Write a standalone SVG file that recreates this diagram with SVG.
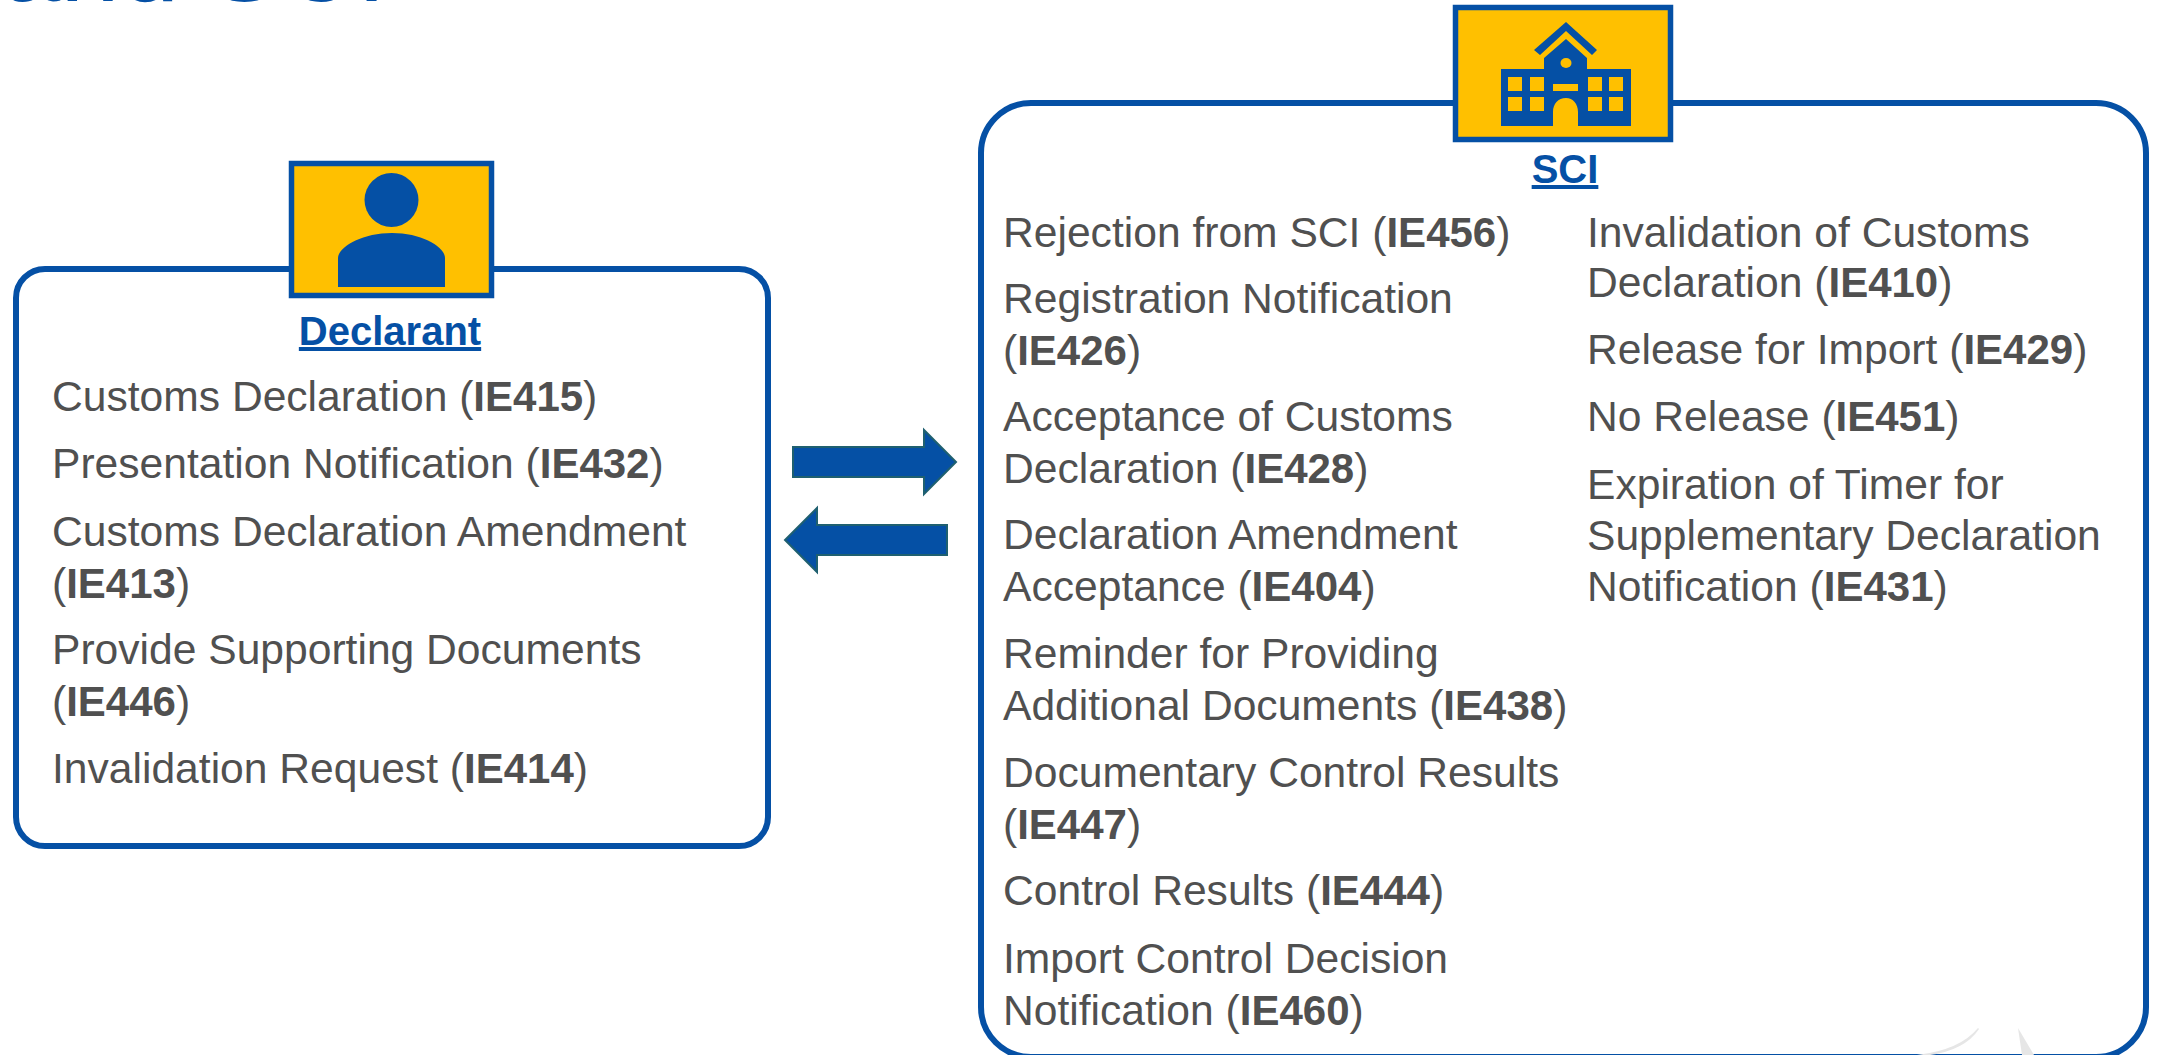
<svg xmlns="http://www.w3.org/2000/svg" width="2157" height="1055" viewBox="0 0 2157 1055">
<style>
.box{fill:#fff;stroke:#0550a5;stroke-width:6}
.icon{fill:#ffc000;stroke:#0550a5;stroke-width:5.500}
.ink{fill:#0550a5}
.arrow{fill:#0550a5;stroke:#1f6070;stroke-width:2}
text{font-family:"Liberation Sans",Arial,sans-serif}
.t{font-size:42.600px;fill:#505050}
.t tspan.b{font-weight:bold;font-size:42px}
.h{font-size:40px;font-weight:bold;fill:#0550a5;text-anchor:middle;text-decoration:underline}
.title{font-size:106.670px;fill:#0550a5}
.wm{fill:#e6e6e6}
</style>
<rect width="2157" height="1055" fill="#fff"/>
<text class="title" x="1" y="1">and SCI</text>
<g id="declarant">
<rect class="box" x="16" y="269" width="752" height="577" rx="29"/>
<rect class="icon" x="291.500" y="163.500" width="200" height="132"/>
<circle class="ink" cx="391.500" cy="200" r="27"/>
<path class="ink" d="M338 287V258C338 247 362 233 392 233C422 233 445 247 445 258V287Z"/>
<text class="h" x="390" y="345">Declarant</text>
<text class="t" x="52" y="411">Customs Declaration (<tspan class="b">IE415</tspan>)</text>
<text class="t" x="52" y="478">Presentation Notification (<tspan class="b">IE432</tspan>)</text>
<text class="t" x="52" y="546">Customs Declaration Amendment</text>
<text class="t" x="52" y="598">(<tspan class="b">IE413</tspan>)</text>
<text class="t" x="52" y="664">Provide Supporting Documents</text>
<text class="t" x="52" y="716">(<tspan class="b">IE446</tspan>)</text>
<text class="t" x="52" y="783">Invalidation Request (<tspan class="b">IE414</tspan>)</text>
</g>
<g id="sci">
<rect class="box" x="981" y="103" width="1165" height="954" rx="50"/>
<path class="wm" d="M1917 1055Q1960 1050 1978 1028L1979 1029Q1965 1050 1930 1055Z"/>
<path class="wm" d="M2018 1028L2034 1055L2022 1055Z"/>
<rect class="icon" x="1455.500" y="7.500" width="215" height="132"/>
<path class="ink" d="M1566 22L1597 50L1592 55L1566 31L1540 55L1534 50Z"/>
<path class="ink" d="M1566 39L1587 58V69H1631V126H1578V112C1578 104 1573 98 1566 98C1558 98 1553 104 1553 112V126H1501V69H1544V58ZM1508 77V91H1522V77ZM1530 77V91H1544V77ZM1588 77V91H1602V77ZM1609 77V91H1623V77ZM1508 97V111H1522V97ZM1530 97V111H1544V97ZM1588 97V111H1602V97ZM1609 97V111H1623V97ZM1553 84V91H1578V84Z" fill-rule="evenodd"/>
<ellipse cx="1566" cy="63" rx="5.500" ry="5" fill="#ffc000"/>
<text class="h" x="1565" y="183">SCI</text>
<text class="t" x="1003" y="247">Rejection from SCI (<tspan class="b">IE456</tspan>)</text>
<text class="t" x="1003" y="313">Registration Notification</text>
<text class="t" x="1003" y="365">(<tspan class="b">IE426</tspan>)</text>
<text class="t" x="1003" y="431">Acceptance of Customs</text>
<text class="t" x="1003" y="483">Declaration (<tspan class="b">IE428</tspan>)</text>
<text class="t" x="1003" y="549">Declaration Amendment</text>
<text class="t" x="1003" y="601">Acceptance (<tspan class="b">IE404</tspan>)</text>
<text class="t" x="1003" y="668">Reminder for Providing</text>
<text class="t" x="1003" y="720">Additional Documents (<tspan class="b">IE438</tspan>)</text>
<text class="t" x="1003" y="787">Documentary Control Results</text>
<text class="t" x="1003" y="839">(<tspan class="b">IE447</tspan>)</text>
<text class="t" x="1003" y="905">Control Results (<tspan class="b">IE444</tspan>)</text>
<text class="t" x="1003" y="973">Import Control Decision</text>
<text class="t" x="1003" y="1025">Notification (<tspan class="b">IE460</tspan>)</text>
<text class="t" x="1587" y="247">Invalidation of Customs</text>
<text class="t" x="1587" y="297">Declaration (<tspan class="b">IE410</tspan>)</text>
<text class="t" x="1587" y="364">Release for Import (<tspan class="b">IE429</tspan>)</text>
<text class="t" x="1587" y="431">No Release (<tspan class="b">IE451</tspan>)</text>
<text class="t" x="1587" y="499">Expiration of Timer for</text>
<text class="t" x="1587" y="550">Supplementary Declaration</text>
<text class="t" x="1587" y="601">Notification (<tspan class="b">IE431</tspan>)</text>
</g>
<g id="connectors">
<path class="arrow" d="M793 447H924V430L956 462L924 494V477H793Z"/>
<path class="arrow" d="M947 525H817V508L785 540L817 572V555H947Z"/>
</g>
</svg>
